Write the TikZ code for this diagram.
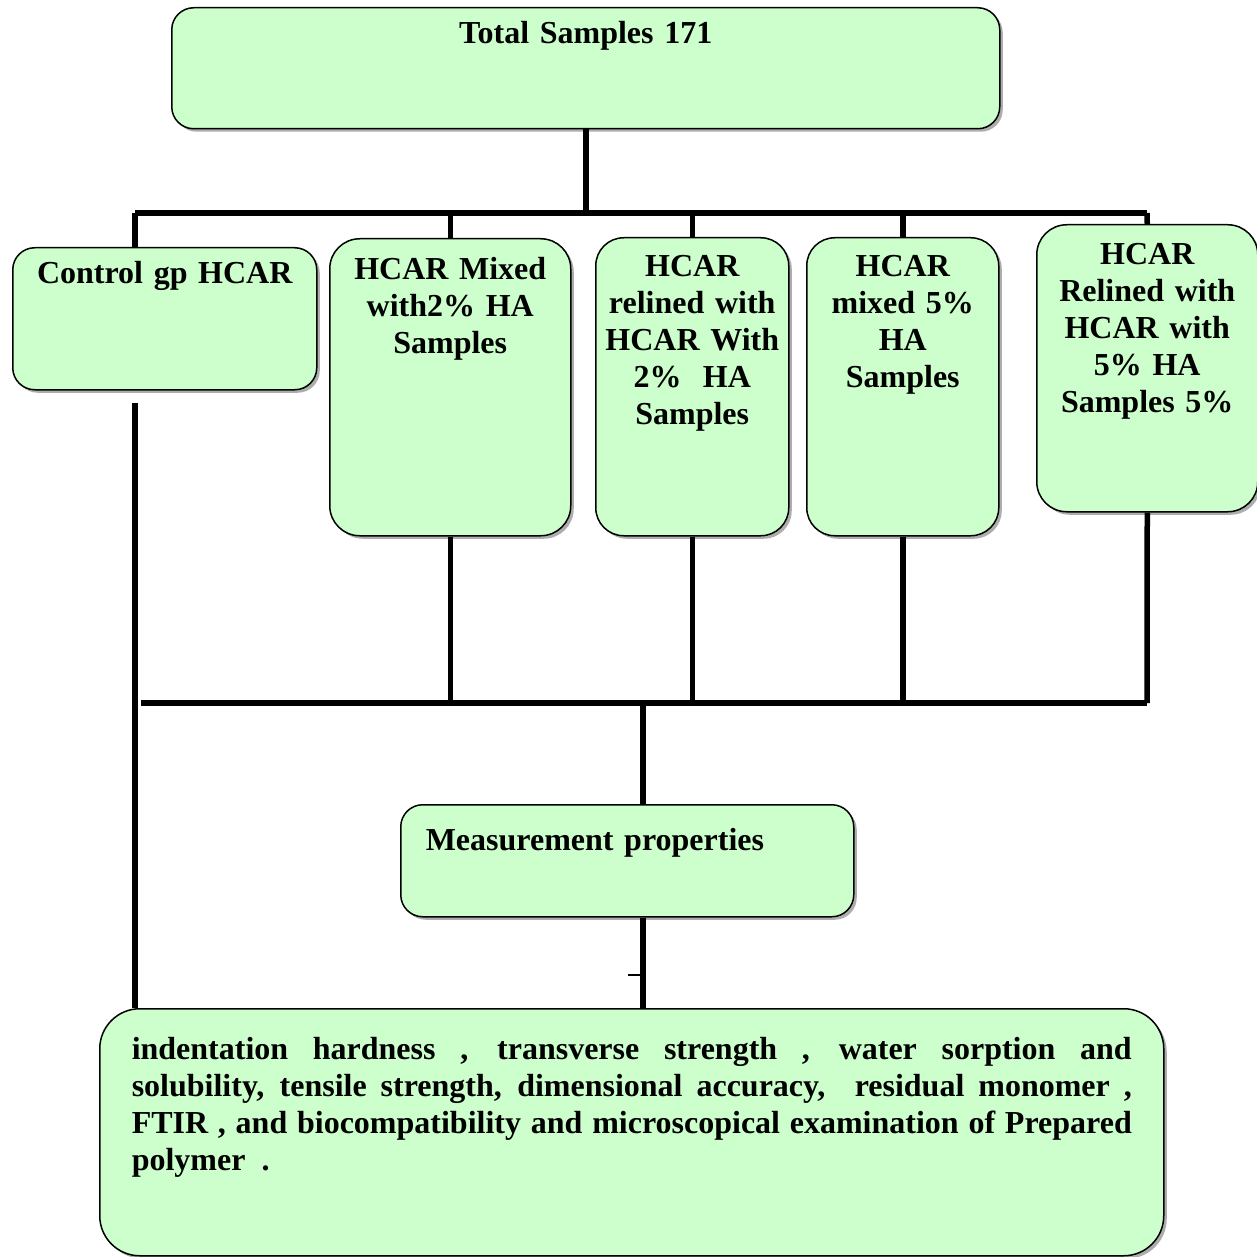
\documentclass[tikz,border=0pt]{standalone}
\usepackage{fontspec}
\setmainfont{Liberation Serif}
\usepackage{tikz}
\usetikzlibrary{shadows}
\definecolor{boxgreen}{HTML}{CCFFCC}

\begin{document}
\begin{tikzpicture}[
    x=1pt, y=-1pt,
    font=\fontsize{32}{37}\selectfont\bfseries,
    box/.style={rectangle, draw=black, fill=boxgreen, line width=1.5pt, rounded corners=22pt, anchor=north west, inner ysep=0pt, inner xsep=8pt, align=center, drop shadow={shadow xshift=3pt, shadow yshift=-3pt, fill=black!40, opacity=0.8}},
    link/.style={line width=5.5pt, black},
    tick/.style={line width=1.5pt, black}
]
    \useasboundingbox (0,0) rectangle (1257,1257);

    % Nodes
    \node (total) [box, minimum width=828pt, text width=812pt, text height=36pt, text depth=85pt] at (171,7) {Total Samples 171};
    \node (control) [box, minimum width=304pt, text width=288pt, text height=36pt, text depth=106pt] at (12,247) {Control gp HCAR};
    \node (mixtwo) [box, rounded corners=30pt, minimum width=241pt, text width=225pt, text height=41pt, text depth=256pt] at (329,238) {HCAR Mixed\\with2\% HA\\Samples};
    \node (reltwo) [box, rounded corners=28pt, minimum width=193pt, text width=177pt, text height=39pt, text depth=259pt] at (595,237) {HCAR\\relined with\\HCAR With\\2\%~~HA\\Samples};
    \node (mixfive) [box, rounded corners=28pt, minimum width=192pt, text width=176pt, text height=39pt, text depth=259pt] at (806,237) {HCAR\\mixed 5\%\\HA\\Samples};
    \node (relfive) [box, rounded corners=30pt, minimum width=221pt, text width=205pt, text height=40pt, text depth=247pt] at (1036,224) {HCAR\\Relined with\\HCAR with\\5\% HA\\Samples 5\%};
    \node (measure) [box, align=left, inner xsep=25pt, minimum width=453pt, text width=403pt, text height=46pt, text depth=66pt] at (400,804) {Measurement properties};
    \node (tests) [box, align=justify, rounded corners=40pt, inner xsep=32pt, minimum width=1064pt, text width=1000pt, text height=51pt, text depth=196pt] at (99,1008) {indentation hardness , transverse strength , water sorption and\linebreak solubility, tensile strength, dimensional accuracy, \ residual monomer ,\linebreak FTIR , and biocompatibility and microscopical examination of Prepared\linebreak polymer~~.};

    % Bus points
    \coordinate (topleft) at (135,213);
    \coordinate (topright) at (1147,213);
    \coordinate (lowleft) at (141,703);
    \coordinate (lowright) at (1147,703);
    \coordinate (lowmid) at (643,703);
    \coordinate (ctrlstart) at (135,403);
    \coordinate (tickstart) at (628,975);

    % Paths
    \draw [link] (total.south) -- (total.south |- topleft);
    \draw [link] (topleft) -- (topright);
    \draw [link] (topleft) -- (topleft |- control.north);
    \draw [link] (mixtwo.north |- topleft) -- (mixtwo.north);
    \draw [link] (reltwo.north |- topleft) -- (reltwo.north);
    \draw [link] (mixfive.north |- topleft) -- (mixfive.north);
    \draw [link] (topright) -- (relfive.north);
    \draw [link] (mixtwo.south) -- (mixtwo.south |- lowleft);
    \draw [link] (reltwo.south) -- (reltwo.south |- lowleft);
    \draw [link] (mixfive.south) -- (mixfive.south |- lowleft);
    \draw [link] (relfive.south) -- (lowright);
    \draw [link] (lowleft) -- (lowright);
    \draw [link] (lowmid) -- (lowmid |- measure.north);
    \draw [link] (measure.south -| lowmid) -- (lowmid |- tests.north);
    \draw [link] (ctrlstart) -- (ctrlstart |- tests.north);
    \draw [tick] (tickstart) -- (tickstart -| lowmid);
\end{tikzpicture}
\end{document}
